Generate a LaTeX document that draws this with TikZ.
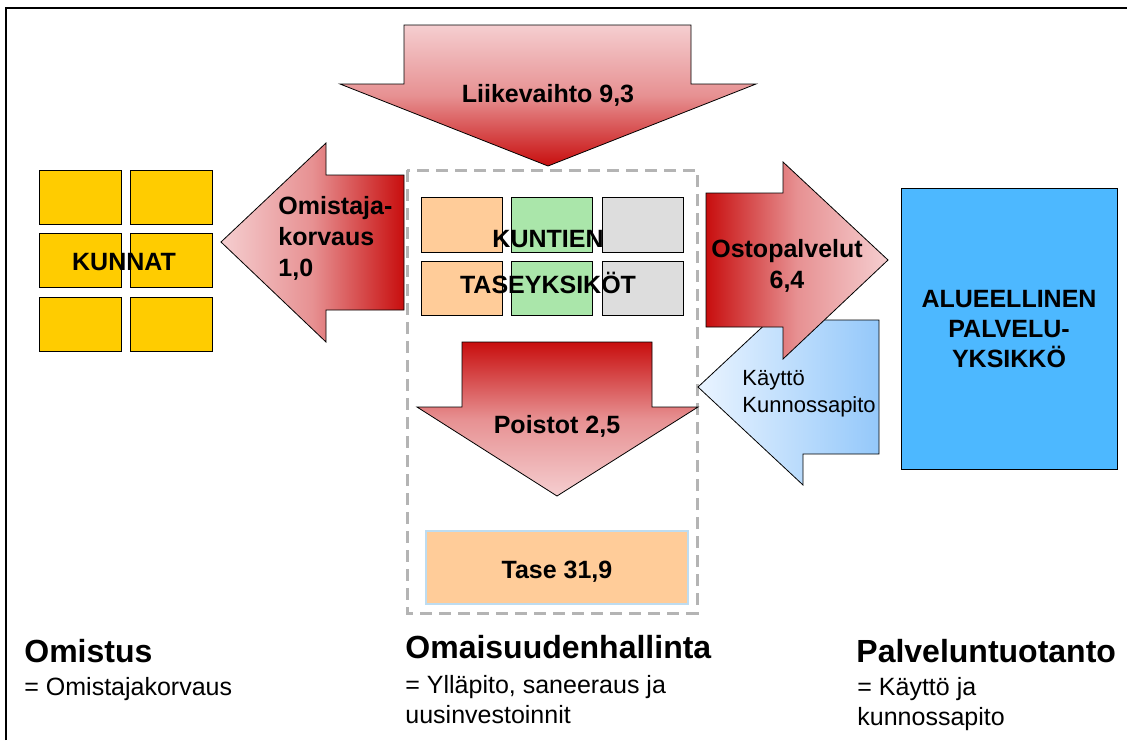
\documentclass[tikz,border=0pt]{standalone}
\usepackage{fontspec}
\setmainfont{Liberation Sans}
\definecolor{arrowred}{RGB}{200,14,14}
\definecolor{arrowpink}{RGB}{245,206,208}
\colorlet{arrowmid}{arrowpink!68!arrowred}
\definecolor{bluelight}{RGB}{234,244,255}
\definecolor{bluedark}{RGB}{148,200,250}
\definecolor{alueblue}{RGB}{77,184,255}
\definecolor{kuntayellow}{RGB}{255,204,0}
\definecolor{taseorange}{RGB}{255,204,153}
\definecolor{tasegreen}{RGB}{170,230,170}
\definecolor{tasegray}{RGB}{221,221,221}
\definecolor{dashgray}{RGB}{180,180,180}
\definecolor{taseline}{RGB}{190,220,240}
\tikzset{
	box/.style={draw=black, line width=0.5pt},
	bigarrow/.style={draw=black, line width=0.4pt},
	boldlabel/.style={font=\bfseries\fontsize{12.5}{15.5}\selectfont, inner sep=0pt},
	smalllabel/.style={font=\fontsize{11}{13.5}\selectfont, inner sep=0pt},
	heading/.style={font=\bfseries\fontsize{16}{19}\selectfont, inner sep=0pt, anchor=base west},
	subtext/.style={font=\fontsize{12.5}{15}\selectfont, inner sep=0pt, anchor=base west, align=left}
}
\begin{document}
\begin{tikzpicture}[x=0.5pt,y=-0.5pt]
	\useasboundingbox (0,0) rectangle (1127,740);
	\draw[line width=1.2pt] (6,740) -- (6,8) -- (1127,8);
	\foreach \r in {0,1,2} {
		\filldraw[box, fill=kuntayellow] (39,170+63.5*\r) rectangle (121,224+63.5*\r);
		\filldraw[box, fill=kuntayellow] (130,170+63.5*\r) rectangle (212,224+63.5*\r);
	}
	\node[boldlabel, anchor=base] (kunnat) at (124,270) {KUNNAT};
	\draw[dashgray, line width=1.5pt, dash pattern=on 6pt off 3.5pt] (407,170) rectangle (697,613);
	\foreach \x/\c in {421/taseorange, 511/tasegreen, 602/tasegray} {
		\filldraw[box, fill=\c] (\x,197) rectangle (\x+81,252);
		\filldraw[box, fill=\c] (\x,261) rectangle (\x+81,315);
	}
	\node[boldlabel, anchor=base, align=center, font=\bfseries\fontsize{12.5}{23}\selectfont] (kuntien) at (548,293) {KUNTIEN\\TASEYKSIKÖT};
	\shadedraw[bigarrow, top color=arrowpink, bottom color=arrowred, middle color=arrowmid] (404,25) -- (691,25) -- (691,84) -- (756,84) -- (548,166) -- (340,84) -- (404,84) -- cycle;
	\node[boldlabel, anchor=base] (liikevaihto) at (548,102) {Liikevaihto 9,3};
	\shadedraw[bigarrow, left color=arrowpink, right color=arrowred, middle color=arrowmid] (404,175) -- (326,175) -- (326,143) -- (221,242) -- (326,342) -- (326,310) -- (404,310) -- cycle;
	\node[boldlabel, anchor=base west, align=left] (omistajakorvaus) at (278,276) {Omistaja-\\korvaus\\1,0};
	\shadedraw[bigarrow, left color=bluelight, right color=bluedark] (879,320) -- (803,320) -- (803,289) -- (698,387) -- (803,485) -- (803,454) -- (879,454) -- cycle;
	\node[smalllabel, anchor=base west, align=left] (kaytto) at (742,412) {Käyttö\\Kunnossapito};
	\shadedraw[bigarrow, left color=arrowred, right color=arrowpink, middle color=arrowmid] (706,193) -- (783,193) -- (783,162) -- (888,260) -- (783,359) -- (783,327) -- (706,327) -- cycle;
	\node[boldlabel, anchor=base, align=center] (ostopalvelut) at (787,288) {Ostopalvelut\\6,4};
	\filldraw[box, fill=alueblue] (901,188) rectangle (1117,469);
	\node[boldlabel, anchor=base, align=center, font=\bfseries\fontsize{12.5}{15}\selectfont] (alueellinen) at (1009,367) {ALUEELLINEN\\PALVELU-\\YKSIKKÖ};
	\shadedraw[bigarrow, top color=arrowred, bottom color=arrowpink, middle color=arrowmid] (462,342) -- (652,342) -- (652,407) -- (698,407) -- (557,496) -- (417,407) -- (462,407) -- cycle;
	\node[boldlabel, anchor=base] (poistot) at (557,433) {Poistot 2,5};
	\filldraw[fill=taseorange, draw=taseline, line width=0.6pt] (426,531) rectangle (688,604);
	\node[boldlabel, anchor=base] (tase) at (557,578) {Tase 31,9};
	\node[heading] (omistus) at (24,662) {Omistus};
	\node[subtext] (omistusteksti) at (24,695) {= Omistajakorvaus};
	\node[heading] (omaisuus) at (405,658) {Omaisuudenhallinta};
	\node[subtext] (omaisuusteksti) at (405,723) {= Ylläpito, saneeraus ja\\uusinvestoinnit};
	\node[heading] (palvelu) at (856,662) {Palveluntuotanto};
	\node[subtext] (palveluteksti) at (857,725) {= Käyttö ja\\kunnossapito};
\end{tikzpicture}
\end{document}
